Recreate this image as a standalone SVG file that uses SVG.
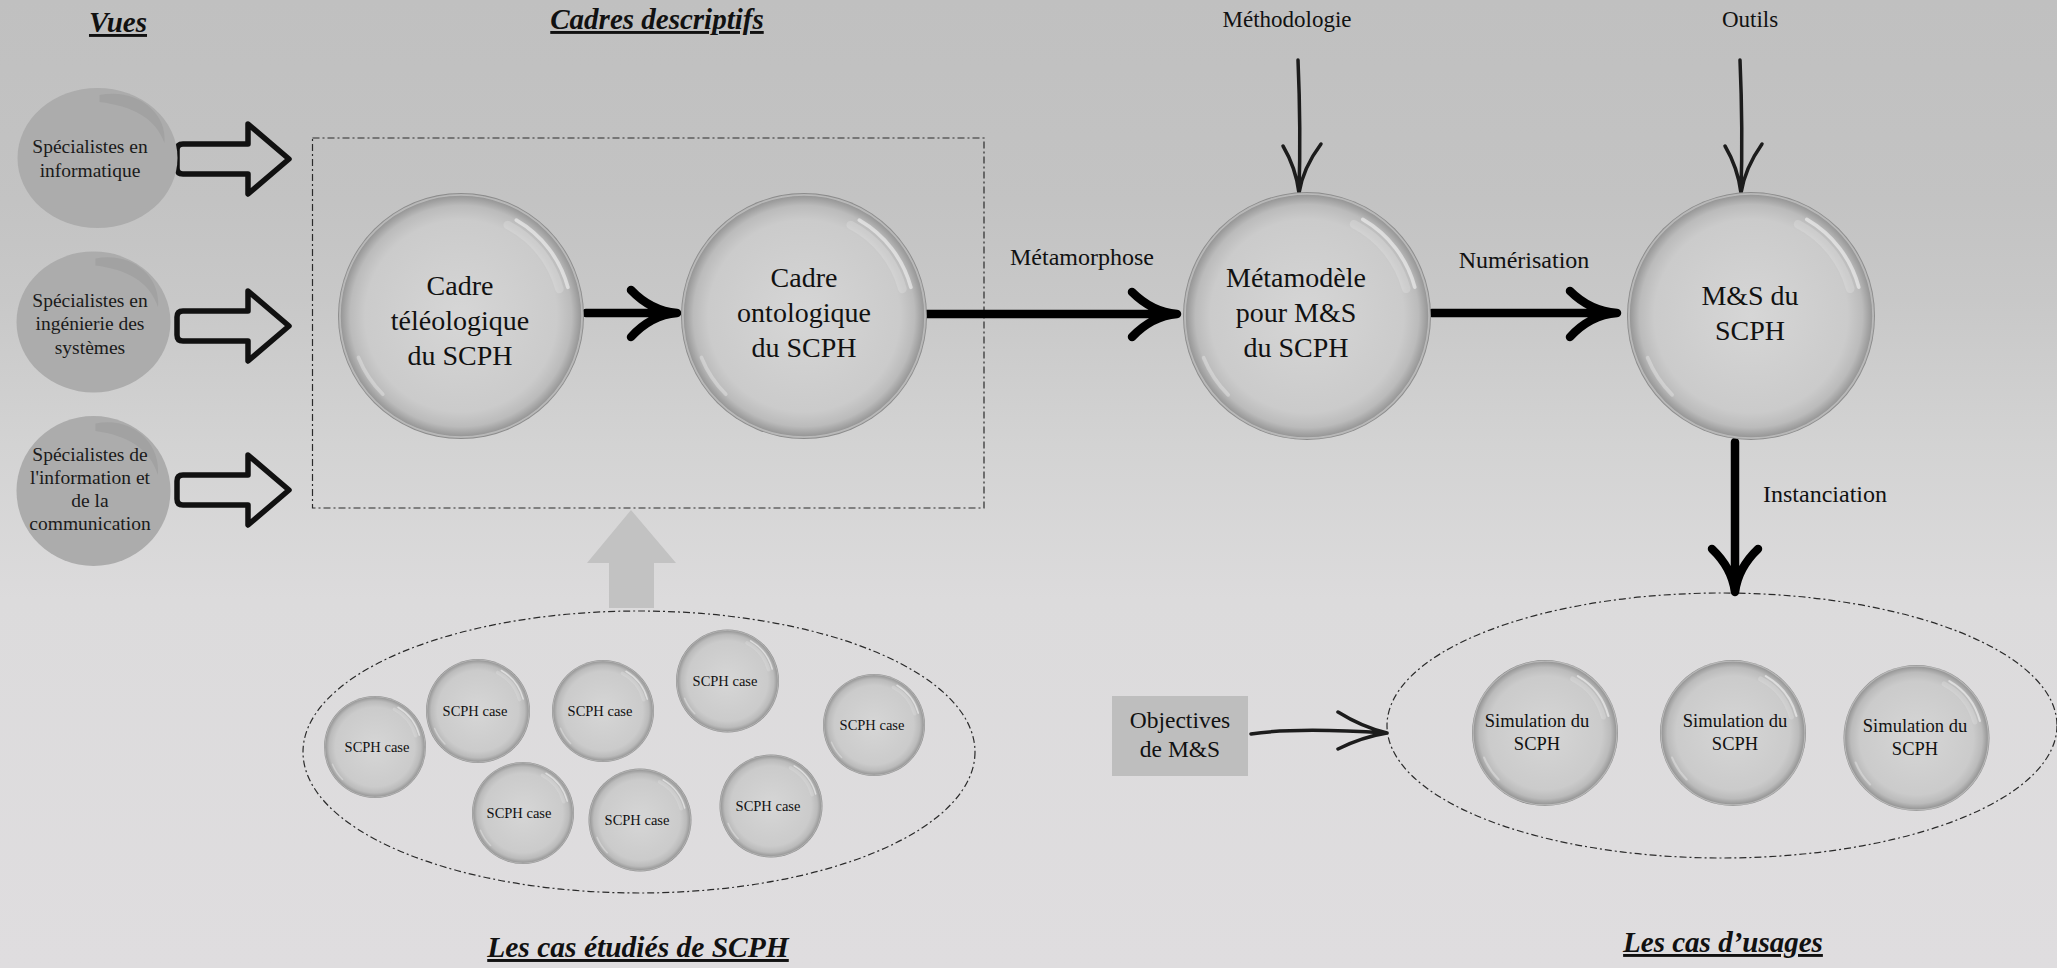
<svg xmlns="http://www.w3.org/2000/svg" xmlns:xlink="http://www.w3.org/1999/xlink" width="2057" height="968" viewBox="0 0 2057 968">
  <style>
    text { font-family: "Liberation Serif", "Times New Roman", serif; fill: #111; }
    .title { font-size: 29px; font-weight: bold; font-style: italic; text-decoration: underline; text-anchor: middle; }
    .big { font-size: 28px; text-anchor: middle; }
    .mid { font-size: 24px; text-anchor: middle; }
    .view { font-size: 19.5px; text-anchor: middle; fill: #1a1a1a; }
    .sim { font-size: 18.5px; text-anchor: middle; }
    .case { font-size: 14.5px; text-anchor: middle; }
    .frame { fill: none; stroke: #2a2a2a; stroke-width: 1.2; stroke-dasharray: 7 3 2 3; }
    .thick { fill: none; stroke: #000; stroke-width: 8.5; stroke-linecap: round; stroke-linejoin: round; }
    .thin { fill: none; stroke: #1c1c1c; stroke-width: 3.5; stroke-linecap: round; stroke-linejoin: round; }
    .block { fill: none; stroke: #111; stroke-width: 5.5; stroke-linejoin: round; }
  </style>
  <defs>
    <linearGradient id="bg" x1="0" y1="0" x2="0" y2="1">
      <stop offset="0" stop-color="#c0c0c0"/>
      <stop offset="0.21" stop-color="#c3c3c3"/>
      <stop offset="0.31" stop-color="#c8c8c8"/>
      <stop offset="0.46" stop-color="#d3d3d3"/>
      <stop offset="0.62" stop-color="#dcdbdc"/>
      <stop offset="1" stop-color="#dfdddf"/>
    </linearGradient>
    <radialGradient id="bubbleFill" cx="50%" cy="50%" r="50%">
      <stop offset="0" stop-color="#d6d6d6"/>
      <stop offset="0.78" stop-color="#cbcbcb"/>
      <stop offset="0.9" stop-color="#bbbbbb"/>
      <stop offset="0.97" stop-color="#9a9a9a"/>
      <stop offset="1" stop-color="#8a8a8a"/>
    </radialGradient>
    <!-- glossy sphere of radius 100, scaled per node -->
    <g id="bubble">
      <circle r="100" fill="url(#bubbleFill)"/>
      <circle r="98.5" fill="none" stroke="#fff" stroke-opacity="0.35" stroke-width="1.5"/>
      <path d="M 45 -77.9 A 90 90 0 0 1 86.9 -23.3" fill="none" stroke="#fff" stroke-opacity="0.5" stroke-width="3" stroke-linecap="round"/>
      <path d="M 38 -74 A 83 83 0 0 1 80 -22" fill="none" stroke="#fff" stroke-opacity="0.18" stroke-width="7" stroke-linecap="round"/>
      <path d="M -63.6 63.6 A 90 90 0 0 1 -83.4 33.7" fill="none" stroke="#fff" stroke-opacity="0.3" stroke-width="3" stroke-linecap="round"/>
    </g>
    <!-- flat ellipse with a darker crescent, rx 80 ry 70 -->
    <g id="viewBlob">
      <ellipse rx="80" ry="70" fill="#acacac"/>
      <path d="M 2 -63 C 40 -70 70 -45 67 -15 C 58 -40 35 -52 2 -56 Z" fill="#a2a2a2"/>
    </g>
    <!-- outlined block arrow, tip at origin -->
    <path id="blockArrow" d="M -106 -15 L -41 -15 L -41 -35 L 0 0 L -41 35 L -41 15 L -106 15 Q -112 15 -112 9 L -112 -9 Q -112 -15 -106 -15 Z"/>
  </defs>

  <rect x="0" y="0" width="2057" height="968" fill="url(#bg)"/>

  <!-- section titles -->
  <g id="titles">
    <text class="title" x="118" y="32">Vues</text>
    <text class="title" x="657" y="29">Cadres descriptifs</text>
    <text class="title" x="638" y="957" style="font-size:29.5px">Les cas étudiés de SCPH</text>
    <text class="title" x="1723" y="952">Les cas d’usages</text>
  </g>

  <!-- frames -->
  <g id="frames">
    <rect class="frame" x="312.5" y="138" width="671.5" height="370"/>
    <ellipse class="frame" cx="639" cy="752" rx="336" ry="141"/>
    <ellipse class="frame" cx="1722" cy="725.5" rx="335" ry="132.5"/>
  </g>

  <!-- connectors -->
  <g id="connectors">
    <use href="#blockArrow" class="block" transform="translate(289,159)"/>
    <use href="#blockArrow" class="block" transform="translate(289,326)"/>
    <use href="#blockArrow" class="block" transform="translate(289,490)"/>

    <polygon points="631,510 587,563 609,563 609,608 654,608 654,563 676,563" fill="#c2c2c2"/>

    <path class="thick" d="M 586 313 L 676 313 M 631 290 Q 651 311 677 313 M 631 337 Q 651 315 677 313"/>
    <path class="thick" d="M 927 314 L 1176 314 M 1132 292 Q 1152 312 1177 314 M 1132 337 Q 1152 316 1177 314"/>
    <path class="thick" d="M 1432 313 L 1616 313 M 1570 291 Q 1590 311 1617 313 M 1570 337 Q 1590 315 1617 313"/>
    <path class="thick" d="M 1735 442 L 1735 591 M 1712 549 Q 1732 568 1735 592 M 1758 549 Q 1738 568 1735 592"/>

    <path class="thin" d="M 1298 60 Q 1301 130 1299 192 M 1283 146 Q 1296 168 1299 193 M 1321 144 Q 1303 168 1299 193"/>
    <path class="thin" d="M 1740 60 Q 1743 130 1741 192 M 1725 146 Q 1738 168 1741 193 M 1762 144 Q 1745 168 1741 193"/>
    <path class="thin" d="M 1251 734 C 1290 728 1340 730 1386 733 M 1338 712 Q 1362 727 1387 733 M 1338 749 Q 1362 737 1387 733"/>

    <text class="mid" x="1082" y="265">Métamorphose</text>
    <text class="mid" x="1524" y="268">Numérisation</text>
    <text class="mid" x="1825" y="502">Instanciation</text>
    <text class="mid" x="1287" y="27" style="font-size:23px">Méthodologie</text>
    <text class="mid" x="1750" y="27" style="font-size:23px">Outils</text>
  </g>

  <!-- viewpoints -->
  <g id="view-informatique">
    <use href="#viewBlob" transform="translate(97.5,158)"/>
    <text class="view" x="90" y="153">Spécialistes en</text>
    <text class="view" x="90" y="177">informatique</text>
  </g>
  <g id="view-ingenierie">
    <use href="#viewBlob" transform="translate(93.5,322) scale(0.9625,1.007)"/>
    <text class="view" x="90" y="307">Spécialistes en</text>
    <text class="view" x="90" y="330">ingénierie des</text>
    <text class="view" x="90" y="354">systèmes</text>
  </g>
  <g id="view-information">
    <use href="#viewBlob" transform="translate(93.5,491) scale(0.9625,1.071)"/>
    <text class="view" x="90" y="461">Spécialistes de</text>
    <text class="view" x="90" y="484">l'information et</text>
    <text class="view" x="90" y="507">de la</text>
    <text class="view" x="90" y="530">communication</text>
  </g>

  <!-- descriptive frameworks -->
  <g id="cadre-teleologique">
    <use href="#bubble" transform="translate(461,316) scale(1.23)"/>
    <text class="big" x="460" y="295">Cadre</text>
    <text class="big" x="460" y="330">téléologique</text>
    <text class="big" x="460" y="365">du SCPH</text>
  </g>
  <g id="cadre-ontologique">
    <use href="#bubble" transform="translate(804,316) scale(1.23)"/>
    <text class="big" x="804" y="287">Cadre</text>
    <text class="big" x="804" y="322">ontologique</text>
    <text class="big" x="804" y="357">du SCPH</text>
  </g>
  <g id="metamodele">
    <use href="#bubble" transform="translate(1307,316) scale(1.24)"/>
    <text class="big" x="1296" y="287">Métamodèle</text>
    <text class="big" x="1296" y="322">pour M&amp;S</text>
    <text class="big" x="1296" y="357">du SCPH</text>
  </g>
  <g id="ms-scph">
    <use href="#bubble" transform="translate(1751,316) scale(1.24)"/>
    <text class="big" x="1750" y="305">M&amp;S du</text>
    <text class="big" x="1750" y="340">SCPH</text>
  </g>

  <!-- studied cases -->
  <g id="case-1"><use href="#bubble" transform="translate(375,747) scale(0.51)"/><text class="case" x="377" y="752">SCPH case</text></g>
  <g id="case-2"><use href="#bubble" transform="translate(478,711) scale(0.52)"/><text class="case" x="475" y="716">SCPH case</text></g>
  <g id="case-3"><use href="#bubble" transform="translate(603,711) scale(0.51)"/><text class="case" x="600" y="716">SCPH case</text></g>
  <g id="case-4"><use href="#bubble" transform="translate(727.5,681) scale(0.515)"/><text class="case" x="725" y="686">SCPH case</text></g>
  <g id="case-5"><use href="#bubble" transform="translate(874,725) scale(0.51)"/><text class="case" x="872" y="730">SCPH case</text></g>
  <g id="case-6"><use href="#bubble" transform="translate(523,813) scale(0.51)"/><text class="case" x="519" y="818">SCPH case</text></g>
  <g id="case-7"><use href="#bubble" transform="translate(640,820) scale(0.515)"/><text class="case" x="637" y="825">SCPH case</text></g>
  <g id="case-8"><use href="#bubble" transform="translate(771,806) scale(0.515)"/><text class="case" x="768" y="811">SCPH case</text></g>

  <!-- use cases -->
  <g id="objectives">
    <rect x="1112" y="696" width="136" height="80" fill="#bebebe"/>
    <text class="mid" x="1180" y="728" style="font-size:23.5px">Objectives</text>
    <text class="mid" x="1180" y="757" style="font-size:23.5px">de M&amp;S</text>
  </g>
  <g id="simulation-1">
    <use href="#bubble" transform="translate(1545,733) scale(0.73)"/>
    <text class="sim" x="1537" y="727">Simulation du</text>
    <text class="sim" x="1537" y="750">SCPH</text>
  </g>
  <g id="simulation-2">
    <use href="#bubble" transform="translate(1733,733) scale(0.73)"/>
    <text class="sim" x="1735" y="727">Simulation du</text>
    <text class="sim" x="1735" y="750">SCPH</text>
  </g>
  <g id="simulation-3">
    <use href="#bubble" transform="translate(1916.5,738) scale(0.73)"/>
    <text class="sim" x="1915" y="732">Simulation du</text>
    <text class="sim" x="1915" y="755">SCPH</text>
  </g>
</svg>
